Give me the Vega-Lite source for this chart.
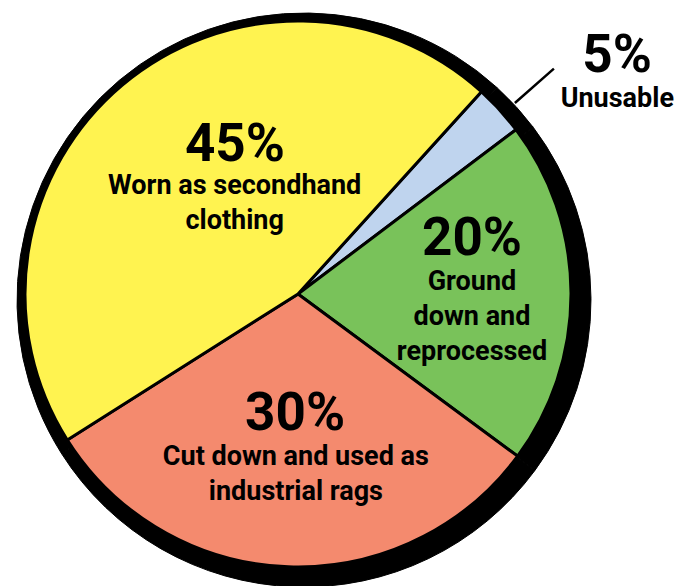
{
  "$schema": "https://vega.github.io/schema/vega-lite/v6.json",
  "width": 596,
  "height": 584,
  "autosize": {"type": "none"},
  "padding": {"left": 0, "top": 2, "right": 102, "bottom": 0},
  "background": "white",
  "config": {
    "view": {"stroke": null},
    "text": {"font": "Roboto", "fontWeight": "bold", "color": "black", "align": "center", "baseline": "alphabetic"}
  },
  "data": {
    "values": [
      {"slice": "Unusable", "share": 3.0, "rank": 1, "pct": "5%", "desc": "Unusable"},
      {"slice": "Ground down and reprocessed", "share": 20.4, "rank": 2, "pct": "20%", "desc": "Ground\ndown and\nreprocessed"},
      {"slice": "Cut down and used as industrial rags", "share": 30.9, "rank": 3, "pct": "30%", "desc": "Cut down and used as\nindustrial rags"},
      {"slice": "Worn as secondhand clothing", "share": 45.7, "rank": 4, "pct": "45%", "desc": "Worn as secondhand\nclothing"}
    ]
  },
  "encoding": {
    "theta": {"field": "share", "type": "quantitative", "stack": true, "scale": {"range": [0.7365, 7.0197]}},
    "order": {"field": "rank", "type": "quantitative"}
  },
  "layer": [
    {
      "mark": {"type": "arc", "outerRadius": 287, "xOffset": 6, "yOffset": 6, "fill": "black", "stroke": "black", "strokeWidth": 1}
    },
    {
      "mark": {"type": "arc", "outerRadius": 273, "stroke": "black", "strokeWidth": 3, "strokeJoin": "miter"},
      "encoding": {
        "color": {
          "field": "slice",
          "type": "nominal",
          "scale": {
            "domain": ["Unusable", "Ground down and reprocessed", "Cut down and used as industrial rags", "Worn as secondhand clothing"],
            "range": ["#BFD4EE", "#79C25A", "#F48A6E", "#FFF350"]
          },
          "legend": null
        }
      }
    },
    {
      "mark": {"type": "arc", "innerRadius": 289, "outerRadius": 341, "padAngle": 0.6, "thetaOffset": 0.018, "fill": null, "stroke": "black", "strokeWidth": 2.5},
      "encoding": {
        "opacity": {"condition": {"test": "datum.rank == 1", "value": 1}, "value": 0}
      }
    },
    {
      "mark": {"type": "text", "radius": 143, "dx": 29, "dy": -24, "fontSize": 53},
      "encoding": {"text": {"condition": {"test": "datum.rank == 4", "field": "pct", "type": "nominal"}, "value": ""}}
    },
    {
      "mark": {"type": "text", "radius": 117, "dx": 12, "dy": -10, "fontSize": 27, "lineBreak": "\n", "lineHeight": 35},
      "encoding": {"text": {"condition": {"test": "datum.rank == 4", "field": "desc", "type": "nominal"}, "value": ""}}
    },
    {
      "mark": {"type": "text", "radius": 174, "dx": 0, "dy": -38, "fontSize": 53},
      "encoding": {"text": {"condition": {"test": "datum.rank == 2", "field": "pct", "type": "nominal"}, "value": ""}}
    },
    {
      "mark": {"type": "text", "radius": 174, "dx": 0, "dy": -3, "fontSize": 27, "lineBreak": "\n", "lineHeight": 35},
      "encoding": {"text": {"condition": {"test": "datum.rank == 2", "field": "desc", "type": "nominal"}, "value": ""}}
    },
    {
      "mark": {"type": "text", "radius": 136, "dx": 2, "dy": 0, "fontSize": 53},
      "encoding": {"text": {"condition": {"test": "datum.rank == 3", "field": "pct", "type": "nominal"}, "value": ""}}
    },
    {
      "mark": {"type": "text", "radius": 171, "dx": 4, "dy": 0, "fontSize": 27, "lineBreak": "\n", "lineHeight": 35},
      "encoding": {"text": {"condition": {"test": "datum.rank == 3", "field": "desc", "type": "nominal"}, "value": ""}}
    },
    {
      "mark": {"type": "text", "radius": 386, "dx": 34, "dy": 38, "fontSize": 53},
      "encoding": {"text": {"condition": {"test": "datum.rank == 1", "field": "pct", "type": "nominal"}, "value": ""}}
    },
    {
      "mark": {"type": "text", "radius": 362, "dx": 52, "dy": 57, "fontSize": 27, "lineBreak": "\n", "lineHeight": 35},
      "encoding": {"text": {"condition": {"test": "datum.rank == 1", "field": "desc", "type": "nominal"}, "value": ""}}
    }
  ]
}
